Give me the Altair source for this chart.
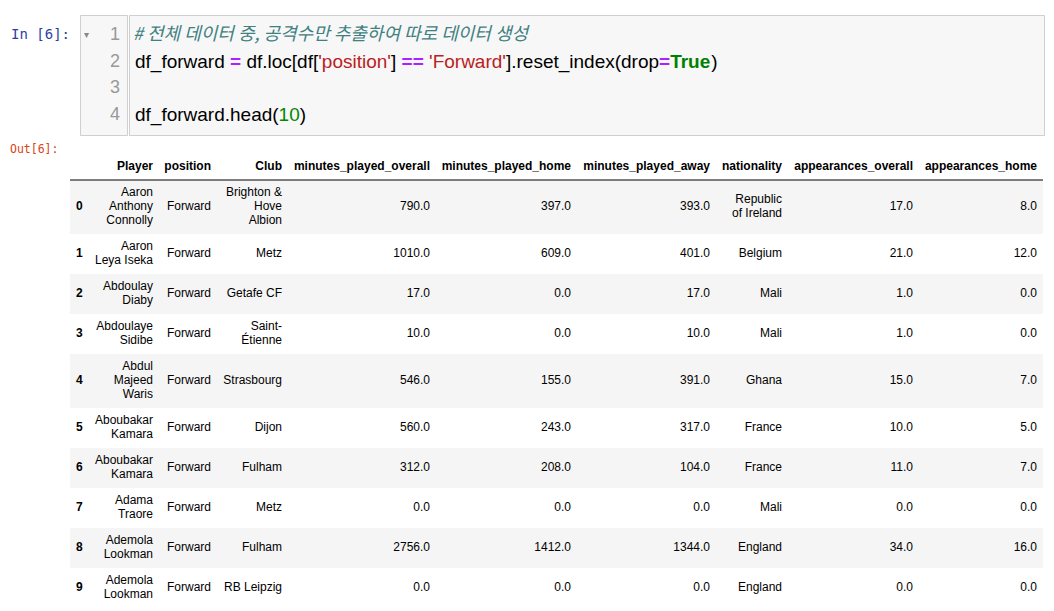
import re

import altair as alt
import pandas as pd

# ---- code cell -------------------------------------------------------------
line_numbers = [1, 2, 3, 4]
comment_text = "# 전체 데이터 중, 공격수만 추출하여 따로 데이터 생성"
line2_tokens = ["df_forward", " ", "=", " ", "df.loc[df[", "'position'", "]", " ", "==", " ",
                "'Forward'", "].reset_index(drop", "=", "True", ")"]
line2_kinds = ["plain", "plain", "op", "plain", "plain", "str", "plain", "plain", "op", "plain",
               "str", "plain", "op", "kw", "plain"]
line4_tokens = ["df_forward.head(", "10", ")"]
line4_kinds = ["plain", "num", "plain"]

# ---- table (df_forward.head(10)) ------------------------------------------
columns = ["Player", "position", "Club", "minutes_played_overall",
           "minutes_played_home", "minutes_played_away", "nationality",
           "appearances_overall", "appearances_home"]
players = ["Aaron Anthony Connolly", "Aaron Leya Iseka", "Abdoulay Diaby",
           "Abdoulaye Sidibe", "Abdul Majeed Waris", "Aboubakar Kamara",
           "Aboubakar Kamara", "Adama Traore", "Ademola Lookman", "Ademola Lookman"]
positions = ["Forward"] * 10
clubs = ["Brighton & Hove Albion", "Metz", "Getafe CF", "Saint-Étienne",
         "Strasbourg", "Dijon", "Fulham", "Metz", "Fulham", "RB Leipzig"]
minutes_overall = [790, 1010, 17, 10, 546, 560, 312, 0, 2756, 0]
minutes_home = [397, 609, 0, 0, 155, 243, 208, 0, 1412, 0]
minutes_away = [393, 401, 17, 10, 391, 317, 104, 0, 1344, 0]
nationality = ["Republic of Ireland", "Belgium", "Mali", "Mali", "Ghana",
               "France", "France", "Mali", "England", "England"]
apps_overall = [17, 21, 1, 1, 15, 10, 11, 0, 34, 0]
apps_home = [8, 12, 0, 0, 7, 5, 7, 0, 16, 0]

# layout constants (pixels)
CELL_H = 120
CODE_X, CODE_SIZE = 6, 19
TABLE_W, TABLE_H = 973, 457
TOP_GAP, HEADER_H, LINE, PAD = 11, 27, 14, 12
COL_EDGES = [6, 83, 141, 212, 360, 501, 640, 712, 843, 967]
TABLE_FONT = "Liberation Sans"
CODE_FONT = "Liberation Sans"
KOREAN_FONT = "Noto Sans CJK KR"

# Arial / Liberation Sans advance widths (1/1000 em), used for token offsets and cell wrapping
ARIAL = {" ": 278, "&": 667, "-": 333, ".": 278, "_": 556, "=": 584, "(": 333, ")": 333,
         "[": 278, "]": 278, "'": 191, "É": 667}
ARIAL.update(dict.fromkeys("0123456789", 556))
ARIAL.update(zip("ABCDEFGHIJKLMNOPQRSTUVWXYZ",
                 [667, 667, 722, 722, 667, 611, 778, 722, 278, 500, 667, 556, 833,
                  722, 778, 667, 778, 722, 667, 611, 722, 667, 944, 667, 667, 611]))
ARIAL.update(zip("abcdefghijklmnopqrstuvwxyz",
                 [556, 556, 500, 556, 556, 278, 556, 556, 222, 222, 500, 222, 833,
                  556, 556, 556, 556, 333, 500, 278, 556, 500, 722, 500, 500, 500]))
ARIAL_BOLD = dict(ARIAL)
ARIAL_BOLD.update(zip("abcdefghijklmnopqrstuvwxyz",
                      [556, 611, 556, 611, 556, 333, 611, 611, 278, 278, 556, 278, 889,
                       611, 611, 611, 611, 389, 556, 333, 611, 556, 778, 556, 556, 500]))


def text_w(s, bold=False):
    table = ARIAL_BOLD if bold else ARIAL
    return sum(table.get(ch, 556) for ch in s)


# code tokens placed one after another (offset in em)
BOLD_KINDS = {"op", "kw"}
code_rows = []
for line, toks, kinds in [(2, line2_tokens, line2_kinds), (4, line4_tokens, line4_kinds)]:
    pos = 0
    for t, k in zip(toks, kinds):
        if t.strip():
            code_rows.append({"line": line, "text": t, "kind": k, "em": pos / 1000,
                              "bold": k in BOLD_KINDS})
        pos += text_w(t, k in BOLD_KINDS)
code_df = pd.DataFrame(code_rows)

line_y = alt.Y("line:O", scale=alt.Scale(type="point", domain=line_numbers, padding=0.75), axis=None)
code_x = alt.X("em:Q", scale=alt.Scale(domain=[0, 1], range=[CODE_X, CODE_X + CODE_SIZE]), axis=None)
kind_color = alt.Color("kind:N", legend=None, scale=alt.Scale(
    domain=["plain", "op", "str", "kw", "num"],
    range=["#000000", "#AA22FF", "#BA2121", "#008000", "#008800"]))

prompt_in = (
    alt.Chart(pd.DataFrame({"line": [1], "text": ["In [6]:"]}))
    .mark_text(align="left", baseline="middle", font="DejaVu Sans Mono", fontSize=14, color="#303F9F")
    .encode(x=alt.value(1), y=line_y, text="text:N")
    .properties(width=69, height=CELL_H)
)

gutter_nums = (
    alt.Chart(pd.DataFrame({"line": line_numbers}))
    .mark_text(align="right", baseline="middle", font=CODE_FONT, fontSize=18, color="#999999")
    .encode(x=alt.value(40), y=line_y, text="line:N")
)
fold = (
    alt.Chart(pd.DataFrame({"line": [1], "text": ["▾"]}))
    .mark_text(align="left", baseline="middle", font="DejaVu Sans", fontSize=10, color="#888888")
    .encode(x=alt.value(4), y=line_y, text="text:N")
)
gutter = alt.layer(gutter_nums, fold).properties(
    width=47, height=CELL_H, view=alt.ViewBackground(fill="#f7f7f7", stroke="#cfcfcf"))

comment = (
    alt.Chart(pd.DataFrame({"line": [1], "text": [comment_text]}))
    .mark_text(align="left", baseline="middle", font=KOREAN_FONT, fontSize=18,
               fontStyle="italic", color="#408080")
    .encode(x=alt.value(4), y=line_y, text="text:N")
)
code_base = alt.Chart(code_df).encode(x=code_x, y=line_y, text="text:N", color=kind_color)
code_plain = code_base.transform_filter("!datum.bold").mark_text(
    align="left", baseline="middle", font=CODE_FONT, fontSize=CODE_SIZE)
code_bold = code_base.transform_filter("datum.bold").mark_text(
    align="left", baseline="middle", font=CODE_FONT, fontSize=CODE_SIZE, fontWeight="bold")
code_area = alt.layer(comment, code_plain, code_bold).properties(
    width=915, height=CELL_H, view=alt.ViewBackground(fill="#f7f7f7", stroke="#cfcfcf"))

input_row = alt.hconcat(prompt_in, gutter, code_area, spacing=0)


# ---- table cells: wrap like the browser does in a squeezed column -----------
def segments(s):
    out = []
    for wi, word in enumerate(s.split(" ")):
        for pi, part in enumerate(re.findall(r"[^-]+-?|-", word)):
            out.append((" " if wi > 0 and pi == 0 else "", part))
    return out


def wrap_px(s, limit):
    lines, cur = [], ""
    for sep, seg in segments(s):
        cand = cur + sep + seg if cur else seg
        if cur and text_w(cand) > limit:
            lines.append(cur)
            cur = seg
        else:
            cur = cand
    lines.append(cur)
    return lines


raw = list(zip(players, positions, clubs,
               [f"{v:.1f}" for v in minutes_overall], [f"{v:.1f}" for v in minutes_home],
               [f"{v:.1f}" for v in minutes_away], nationality,
               [f"{v:.1f}" for v in apps_overall], [f"{v:.1f}" for v in apps_home]))
limits = []
for j, col in enumerate(columns):
    seg_max = max(text_w(seg) for r in raw for _, seg in segments(r[j]))
    limits.append(max(seg_max, text_w(col, bold=True)))
body = [[wrap_px(c, limits[j]) for j, c in enumerate(r)] for r in raw]

row_tops, row_bottoms = [], []
y = TOP_GAP + HEADER_H
for cells in body:
    h = max(len(c) for c in cells) * LINE + PAD
    row_tops.append(y)
    row_bottoms.append(y + h)
    y += h

stripes = pd.DataFrame({"top": row_tops[0::2], "bottom": row_bottoms[0::2]})

cell_rows, index_rows = [], []
for i, cells in enumerate(body):
    rh = row_bottoms[i] - row_tops[i]
    index_rows.append({"ci": 0, "y": row_tops[i] + (rh - LINE) / 2, "text": str(i)})
    for j, lines in enumerate(cells):
        cell_rows.append({"ci": j + 1, "y": row_tops[i] + (rh - len(lines) * LINE) / 2,
                          "text": "\n".join(lines)})
header_rows = [{"ci": j + 1, "y": TOP_GAP + (HEADER_H - LINE) / 2, "text": c}
               for j, c in enumerate(columns)]

table_y_scale = alt.Scale(domain=[0, TABLE_H], reverse=True, zero=False, nice=False)
tx = alt.X("ci:Q", scale=alt.Scale(domain=list(range(10)), range=COL_EDGES, zero=False, nice=False),
           axis=None)
ty = alt.Y("y:Q", scale=table_y_scale, axis=None)

stripe_layer = (
    alt.Chart(stripes).mark_rect(color="#f5f5f5")
    .encode(x=alt.value(0), x2=alt.value("width"),
            y=alt.Y("top:Q", scale=table_y_scale, axis=None), y2="bottom:Q")
)
header_line = (
    alt.Chart(pd.DataFrame({"y": [TOP_GAP + HEADER_H]})).mark_rule(color="black", strokeWidth=1)
    .encode(x=alt.value(0), x2=alt.value("width"), y=ty)
)
text_props = dict(baseline="line-top", lineHeight=LINE, lineBreak="\n", font=TABLE_FONT,
                  fontSize=12, color="#000000")
header_text = (
    alt.Chart(pd.DataFrame(header_rows)).mark_text(align="right", fontWeight="bold", **text_props)
    .encode(x=tx, y=ty, text="text:N")
)
index_text = (
    alt.Chart(pd.DataFrame(index_rows)).mark_text(align="left", fontWeight="bold", **text_props)
    .encode(x=tx, y=ty, text="text:N")
)
cell_text = (
    alt.Chart(pd.DataFrame(cell_rows)).mark_text(align="right", **text_props)
    .encode(x=tx, y=ty, text="text:N")
)
table = alt.layer(stripe_layer, header_line, header_text, index_text, cell_text).properties(
    width=TABLE_W, height=TABLE_H)

prompt_out = (
    alt.Chart(pd.DataFrame({"y": [8], "text": ["Out[6]:"]}))
    .mark_text(align="left", baseline="middle", font="DejaVu Sans Mono", fontSize=11.5, color="#D84315")
    .encode(x=alt.value(0), y=alt.Y("y:Q", scale=table_y_scale, axis=None), text="text:N")
    .properties(width=59, height=TABLE_H)
)

output_row = alt.hconcat(prompt_out, table, spacing=0)

chart = (
    alt.vconcat(input_row, output_row, spacing=6)
    .properties(padding={"left": 2, "top": 6, "right": 0, "bottom": 0}, background="white")
    .configure_view(stroke=None)
)

chart.save("out.html", embed_options={"renderer": "svg", "actions": False})
